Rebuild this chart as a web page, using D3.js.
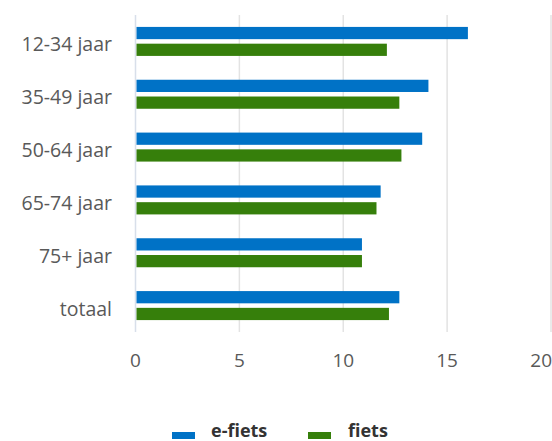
<!DOCTYPE html>
<html><head><meta charset="utf-8">
<script src="https://cdn.jsdelivr.net/npm/d3@7"></script>
<style>body{margin:0;background:#fff;}svg{display:block;}</style>
</head><body><svg id="c" width="552" height="441"></svg>
<script>
const categories = ["12-34 jaar","35-49 jaar","50-64 jaar","65-74 jaar","75+ jaar","totaal"];
const seriesNames = ["e-fiets","fiets"];
const eFiets = [16.0, 14.1, 13.8, 11.8, 10.9, 12.7];
const fiets  = [12.1, 12.7, 12.8, 11.6, 10.9, 12.2];
const xTicks = [0, 5, 10, 15, 20];
const colors = ["#0072c6", "#367f0b"];

const svg = d3.select("#c");
const font = "'Open Sans', sans-serif";
const x = d3.scaleLinear().domain([0, 20]).range([135.5, 551]);
const y = d3.scaleBand().domain(categories).range([15, 332]);
const sub = d3.scaleBand().domain(seriesNames).range([-14.5, 14.5]).paddingInner(0.27);

// gridlines
svg.append("g").selectAll("line").data(xTicks).join("line")
  .attr("x1", d => x(d)).attr("x2", d => x(d))
  .attr("y1", 15).attr("y2", 332)
  .attr("stroke", (d,i) => i === 0 ? "#d8dfea" : "#e3e3e3")
  .attr("stroke-width", 1.5);

const data = [eFiets, fiets];
const g = svg.append("g");
categories.forEach((c, i) => {
  const center = y(c) + y.bandwidth() / 2;
  seriesNames.forEach((s, j) => {
    g.append("rect")
      .attr("x", x(0) + 1)
      .attr("y", center + sub(s))
      .attr("width", x(data[j][i]) - x(0) - 1)
      .attr("height", sub.bandwidth())
      .attr("fill", colors[j]);
  });
});

// category labels
svg.append("g").selectAll("text").data(categories).join("text")
  .attr("x", 112).attr("y", d => y(d) + y.bandwidth() / 2 + 10)
  .attr("text-anchor", "end")
  .attr("font-family", font).attr("font-size", 19.5).attr("fill", "#595959")
  .text(d => d);

// x tick labels (last one justified to stay inside the chart)
const lastTick = xTicks[xTicks.length - 1];
svg.append("g").selectAll("text").data(xTicks).join("text")
  .attr("x", d => d === lastTick ? 552 : x(d)).attr("y", 367)
  .attr("text-anchor", d => d === lastTick ? "end" : "middle")
  .attr("font-family", font).attr("font-size", 19).attr("fill", "#595959")
  .text(d => d);

// legend
const legend = [
  {name: seriesNames[0], color: colors[0], sx: 172, tx: 211},
  {name: seriesNames[1], color: colors[1], sx: 308, tx: 348}
];
const lg = svg.append("g");
legend.forEach(l => {
  lg.append("rect").attr("x", l.sx).attr("y", 432).attr("width", 23).attr("height", 7).attr("fill", l.color);
  lg.append("text").attr("x", l.tx).attr("y", 437)
    .attr("font-family", font).attr("font-size", 18).attr("font-weight", "bold").attr("fill", "#333")
    .text(l.name);
});
</script></body></html>
